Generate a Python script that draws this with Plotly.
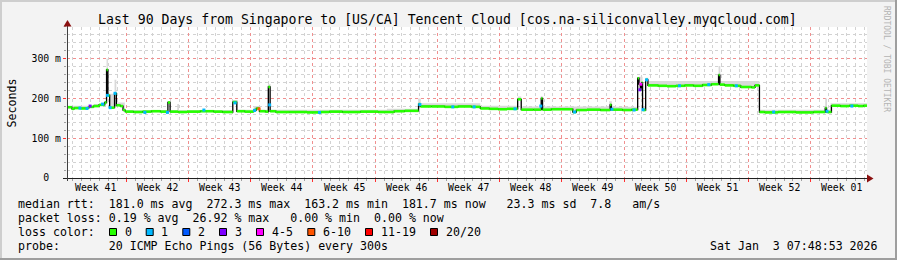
import pandas as pd
import plotly.graph_objects as go

# ---------------- data ----------------
START = pd.Timestamp("2025-10-05 07:48:53")
END = pd.Timestamp("2026-01-03 07:48:53")

# median rtt (step values), time in days since START, value in ms
med_day = [
    0.0, 0.55, 0.8, 1.5, 2.3, 2.5, 3.0, 3.6, 4.25, 4.45,
    4.6, 4.8, 5.35, 5.55, 6.0, 6.3, 6.55, 7.5, 8.5, 9.5,
    10.5, 11.35, 11.6, 12.5, 13.5, 15.0, 16.5, 17.5, 18.65, 19.1,
    20.0, 21.0, 21.3, 21.65, 22.3, 22.65, 22.85, 23.5, 25.0, 27.0,
    28.5, 29.5, 31.0, 33.0, 35.0, 36.8, 38.0, 39.55, 39.75, 41.0,
    42.5, 44.0, 45.5, 46.5, 47.5, 48.5, 49.5, 50.7, 51.1, 52.5,
    53.35, 53.5, 54.5, 56.9, 57.3, 58.5, 60.0, 61.1, 61.25, 62.5,
    63.5, 64.2, 64.35, 64.5, 64.65, 64.75, 65.1, 65.35, 66.5, 67.5,
    68.5, 69.5, 70.5, 71.5, 72.5, 73.3, 73.45, 74.0, 75.0, 75.8,
    77.0, 77.4, 77.9, 78.5, 80.0, 82.0, 84.0, 85.3, 85.45, 86.0,
    87.0, 88.0, 89.0, 89.6, 90.0]
med_ms = [
    178, 174, 176, 175, 177, 179, 181, 184, 190, 272,
    208, 177, 213, 183, 181, 171, 167, 166, 167, 168,
    167, 190, 167, 166, 167, 168, 167, 166, 191, 168,
    167, 171, 175, 168, 167, 229, 168, 166, 166, 165,
    166, 167, 166, 167, 166, 168, 169, 186, 180, 180,
    179, 180, 179, 175, 174, 173, 174, 198, 172, 172,
    200, 172, 173, 166, 171, 172, 171, 184, 172, 171,
    172, 251, 236, 222, 240, 171, 247, 233, 232, 231,
    232, 233, 232, 234, 236, 259, 235, 233, 232, 229,
    228, 233, 166, 165, 166, 165, 166, 176, 166, 182,
    181, 182, 181, 182, 182]

# upper edge of the smoke (ping spread), step values
smoke_day = [
    0.0, 3.0, 4.25, 4.45, 4.6, 5.35, 5.55, 6.5, 11.35, 11.6,
    12.4, 12.6, 18.6, 19.2, 21.0, 21.7, 22.6, 22.9, 29.5, 36.0,
    39.5, 39.8, 46.5, 50.7, 51.1, 53.3, 53.5, 61.0, 61.3, 64.2,
    64.75, 65.1, 65.4, 73.3, 73.5, 77.9, 85.3, 85.5, 85.9, 89.6, 90.0]
smoke_ms = [
    182, 186, 194, 300, 212, 247, 190, 171, 194, 171,
    186, 171, 196, 172, 181, 172, 236, 172, 172, 174,
    200, 188, 182, 205, 180, 206, 180, 193, 179, 255,
    180, 252, 244, 282, 244, 172, 200, 172, 188, 188, 188]

# points where packet loss occurred (loss colour index)
loss_day = [1.46, 2.25, 2.6, 4.0, 4.55, 4.85, 5.4, 8.76, 11.3, 15.4,
            18.9, 21.1, 21.6, 22.8, 28.4, 39.7, 43.4, 45.8, 50.4, 53.3,
            57.1, 61.3, 63.8, 64.45, 64.55, 64.8, 65.2, 68.9, 72.2, 75.3,
            79.5, 85.5, 88.3]
loss_ms = [176, 175, 181, 186, 208, 177, 213, 165, 165, 171,
           189, 170, 174, 184, 165, 185, 179, 179, 174, 181,
           166, 173, 171, 222, 236, 172, 247, 232, 235, 232,
           166, 168, 181]
loss_lvl = [1, 1, 3, 1, 1, 1, 1, 1, 1, 1,
            1, 1, 5, 1, 1, 1, 1, 1, 1, 1,
            1, 1, 1, 3, 4, 1, 1, 1, 1, 1,
            1, 1, 1]

loss_labels = ["0", "1", "2", "3", "4-5", "6-10", "11-19", "20/20"]
loss_colors = ["#26ff00", "#00b8ff", "#0059ff", "#7e00ff",
               "#ff00ff", "#ff5500", "#ff0000", "#a00000"]

week_labels = ["Week 41", "Week 42", "Week 43", "Week 44", "Week 45",
               "Week 46", "Week 47", "Week 48", "Week 49", "Week 50",
               "Week 51", "Week 52", "Week 01"]
y_tickvals = [0, 100, 200, 300]
y_ticktext = ["0\u00a0\u00a0", "100 m", "200 m", "300 m"]

title = "Last 90 Days from Singapore to [US/CA] Tencent Cloud [cos.na-siliconvalley.myqcloud.com]"
line_rtt = "median rtt:  181.0 ms avg  272.3 ms max  163.2 ms min  181.7 ms now   23.3 ms sd  7.8   am/s"
line_loss = "packet loss: 0.19 % avg  26.92 % max   0.00 % min  0.00 % now"
line_color = "loss color:"
line_probe = "probe:       20 ICMP Echo Pings (56 Bytes) every 300s"
date_text = "Sat Jan  3 07:48:53 2026"

# ---------------- layout geometry ----------------
W, H = 897, 260
PL, PR, PT, PB = 67, 867, 27, 178
FONT = "DejaVu Sans Mono"


def px(x):
    return (x - PL) / (PR - PL)


def py(y):
    return (PB - y) / (PB - PT)


def T(days):
    return [(START + pd.Timedelta(days=d)).strftime("%Y-%m-%d %H:%M:%S") for d in days]


def nb(s):
    return s.replace(" ", "\u00a0")


fig = go.Figure()

# base for smoke fill
fig.add_trace(go.Scatter(x=T(med_day), y=med_ms, mode="lines",
                         line=dict(width=0, shape="hv"), hoverinfo="skip"))
fig.add_trace(go.Scatter(x=T(smoke_day), y=smoke_ms, mode="lines",
                         line=dict(width=0, shape="hv"), fill="tonexty",
                         fillcolor="#d9d9d9", hoverinfo="skip"))
# black median (shows the vertical transitions)
fig.add_trace(go.Scatter(x=T(med_day), y=med_ms, mode="lines",
                         line=dict(width=1.3, color="#000000", shape="hv"),
                         hoverinfo="skip"))
# green horizontal segments of the median
gx, gy = [], []
tt = T(med_day)
for i in range(len(med_day) - 1):
    gx += [tt[i], tt[i + 1], None]
    gy += [med_ms[i], med_ms[i], None]
fig.add_trace(go.Scatter(x=gx, y=gy, mode="lines",
                         line=dict(width=2.6, color=loss_colors[0]),
                         hoverinfo="skip"))
# loss points
fig.add_trace(go.Scatter(x=T(loss_day), y=loss_ms, mode="markers",
                         marker=dict(symbol="square", size=3,
                                     color=[loss_colors[k] for k in loss_lvl],
                                     line=dict(width=0)),
                         hoverinfo="skip"))

week_starts = pd.date_range("2025-10-05", periods=len(week_labels), freq="7D")
week_lines = [d.strftime("%Y-%m-%d") for d in week_starts[1:]]
week_mid = [(d + pd.Timedelta(days=3.5)).strftime("%Y-%m-%d %H:%M:%S") for d in week_starts]

fig.update_xaxes(
    type="date", range=[START.strftime("%Y-%m-%d %H:%M:%S"), END.strftime("%Y-%m-%d %H:%M:%S")],
    tickmode="array", tickvals=week_lines, showticklabels=False,
    ticks="outside", ticklen=3, tickcolor="#ff3030", tickwidth=1,
    showgrid=True, gridcolor="#f09090", griddash="dot", gridwidth=1,
    showline=False, zeroline=False,
    minor=dict(tickmode="linear", tick0="2025-10-05", dtick=86400000,
               showgrid=True, gridcolor="#d2d2d2", griddash="dot", gridwidth=1,
               ticks="outside", ticklen=2, tickcolor="#a0a0a0"),
    fixedrange=True,
)
fig.update_yaxes(
    range=[0, (PB - PT) / 0.3974], tickmode="array", tickvals=y_tickvals, ticktext=y_ticktext,
    tickfont=dict(family=FONT, size=9.8, color="#000000"),
    ticks="outside", ticklen=3, tickcolor="#ff3030",
    showgrid=True, gridcolor="#f09090", griddash="dot", gridwidth=1,
    showline=False, zeroline=False, ticklabelstandoff=0,
    minor=dict(tickmode="linear", tick0=0, dtick=20, showgrid=True,
               gridcolor="#d2d2d2", griddash="dot", gridwidth=1,
               ticks="outside", ticklen=2, tickcolor="#a0a0a0"),
    fixedrange=True,
)

shapes = []
# frame
shapes.append(dict(type="rect", xref="paper", yref="paper", x0=px(0), x1=px(W), y0=py(0), y1=py(2),
                   fillcolor="#cecece", line=dict(width=0), layer="above"))
shapes.append(dict(type="rect", xref="paper", yref="paper", x0=px(0), x1=px(2), y0=py(0), y1=py(H),
                   fillcolor="#cecece", line=dict(width=0), layer="above"))
shapes.append(dict(type="rect", xref="paper", yref="paper", x0=px(0), x1=px(W), y0=py(H - 2), y1=py(H),
                   fillcolor="#9e9e9e", line=dict(width=0), layer="above"))
shapes.append(dict(type="rect", xref="paper", yref="paper", x0=px(W - 2), x1=px(W), y0=py(0), y1=py(H),
                   fillcolor="#9e9e9e", line=dict(width=0), layer="above"))
# axes lines
shapes.append(dict(type="line", xref="paper", yref="paper", x0=px(63), x1=px(868), y0=py(178.5), y1=py(178.5),
                   line=dict(color="#202020", width=1), layer="above"))
shapes.append(dict(type="line", xref="paper", yref="paper", x0=px(67.5), x1=px(67.5), y0=py(181), y1=py(24),
                   line=dict(color="#404040", width=1), layer="above"))
# arrows
shapes.append(dict(type="path", xref="paper", yref="paper",
                   path=f"M {px(63.5)},{py(26.5)} L {px(71.5)},{py(26.5)} L {px(67.5)},{py(20)} Z",
                   fillcolor="#8b1010", line=dict(width=0), layer="above"))
shapes.append(dict(type="path", xref="paper", yref="paper",
                   path=f"M {px(867)},{py(174.5)} L {px(867)},{py(182.5)} L {px(873.5)},{py(178.5)} Z",
                   fillcolor="#8b1010", line=dict(width=0), layer="above"))

annotations = []


def txt(s, x, y, size=11.6, xanchor="left", color="#000000", angle=0, xref="paper"):
    annotations.append(dict(text=nb(s), x=x, y=y, xref=xref, yref="paper",
                            xanchor=xanchor, yanchor="middle", showarrow=False,
                            textangle=angle, font=dict(family=FONT, size=size, color=color)))


txt(title, px(447), py(19.5), size=13.2, xanchor="center")
txt("Seconds", px(11), py(102.5), size=11.6, xanchor="center", angle=-90)
txt("RRDTOOL / TOBI OETIKER", px(886.5), py(58.5), size=8, xanchor="center", color="#b4b4b4", angle=90)
for lab, xm in zip(week_labels, week_mid):
    txt(lab, xm, py(187), size=9.8, xanchor="center", xref="x")
txt(line_rtt, px(16), py(204))
txt(line_loss, px(16), py(218))
txt(line_color, px(16), py(232))
txt(line_probe, px(16), py(246))
txt(date_text, px(880), py(246), xanchor="right")

legend_x = [109, 145.7, 182.3, 219, 256, 307.3, 365, 430]
for lab, col, x0 in zip(loss_labels, loss_colors, legend_x):
    shapes.append(dict(type="rect", xref="paper", yref="paper", x0=px(x0 + 0.5), x1=px(x0 + 7.5),
                       y0=py(228.5), y1=py(235.5), fillcolor=col,
                       line=dict(color="#000000", width=1), layer="above"))
    txt(lab, px(x0 + 13.7), py(232))

fig.update_layout(
    width=W, height=H, margin=dict(l=PL, r=W - PR, t=PT, b=H - PB, pad=0),
    paper_bgcolor="#f3f3f3", plot_bgcolor="#ffffff", showlegend=False,
    shapes=shapes, annotations=annotations,
)

fig.write_html("out.html", config={"displayModeBar": False, "staticPlot": True})
